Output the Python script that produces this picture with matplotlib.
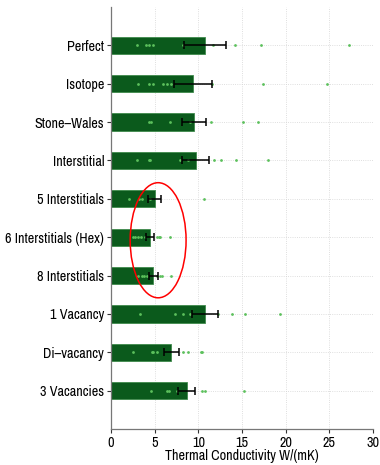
import matplotlib
matplotlib.use('Agg')
import matplotlib.pyplot as plt
from matplotlib.patches import Ellipse

plt.rcParams['font.family'] = ['Archivo Narrow', 'DejaVu Sans']
plt.rcParams['font.stretch'] = 'condensed'

categories = ['Perfect', 'Isotope', 'Stone\u2013Wales', 'Interstitial', '5 Interstitials',
              '6 Interstitials (Hex)', '8 Interstitials', '1 Vacancy', 'Di\u2013vacancy', '3 Vacancies']

# mean thermal conductivity and error (half width)
means = [10.8, 9.4, 9.5, 9.7, 5.0, 4.5, 4.85, 10.75, 6.9, 8.65]
errors = [2.4, 2.2, 1.35, 1.55, 0.77, 0.45, 0.48, 1.5, 0.85, 1.0]

# individual runs
runs = [
    [3.0, 4.05, 4.4, 4.85, 8.3, 11.65, 14.25, 17.15, 27.3],
    [3.1, 4.4, 4.85, 5.95, 6.45, 6.9, 11.55, 17.4, 24.7],
    [4.4, 4.55, 6.75, 9.0, 11.5, 15.1, 16.85],
    [3.0, 4.4, 4.5, 7.85, 8.8, 11.85, 12.6, 14.35, 18.0],
    [2.1, 3.25, 3.55, 4.45, 10.65],
    [2.5, 2.8, 3.1, 3.4, 3.95, 5.25, 5.45, 5.6, 6.75],
    [3.15, 3.5, 3.8, 4.1, 5.3, 5.6, 5.85, 6.9],
    [3.35, 7.3, 8.3, 9.0, 12.3, 13.9, 15.35, 19.4],
    [2.55, 4.7, 4.85, 5.25, 8.3, 8.85, 10.3, 10.45],
    [4.55, 6.45, 6.6, 7.55, 10.4, 10.8, 15.25],
]

fig = plt.figure(figsize=(3.8, 4.65), dpi=100)
ax = fig.add_axes([0.292, 0.0774, 0.6896, 0.9076])

ypos = list(range(len(categories)))
ax.barh(ypos, means, height=0.45, color='#0b5a1c', edgecolor='#3f8a4c', linewidth=0.6, zorder=2)
for y, vals in zip(ypos, runs):
    ax.plot(vals, [y] * len(vals), linestyle='', marker='o', markersize=2,
            color='#5cc05c', markeredgewidth=0, zorder=3)
ax.errorbar(means, ypos, xerr=errors, fmt='none', ecolor='black', elinewidth=1.1,
            capsize=3, capthick=1.1, zorder=4)

ax.add_patch(Ellipse((5.4, 5.08), 6.4, 3.0, fill=False, edgecolor='red', linewidth=1.1, zorder=5))

ax.set_xlim(0, 30)
ax.set_ylim(10, -1)
ax.set_yticks(ypos)
ax.set_yticklabels(categories)
ax.set_xticks([0, 5, 10, 15, 20, 25, 30])
ax.tick_params(axis='both', labelsize=10.2, length=3, color='#333333', width=0.8, pad=2)
ax.set_xlabel('Thermal Conductivity W/(mK)', fontsize=10.2, labelpad=-1)
ax.grid(True, linestyle=':', color='#d4d4d4', linewidth=0.6, zorder=0)
ax.set_axisbelow(True)
for side in ['top', 'right']:
    ax.spines[side].set_visible(False)
for side in ['left', 'bottom']:
    ax.spines[side].set_color('#777777')
    ax.spines[side].set_linewidth(0.9)

fig.savefig('out.png', dpi=100)
